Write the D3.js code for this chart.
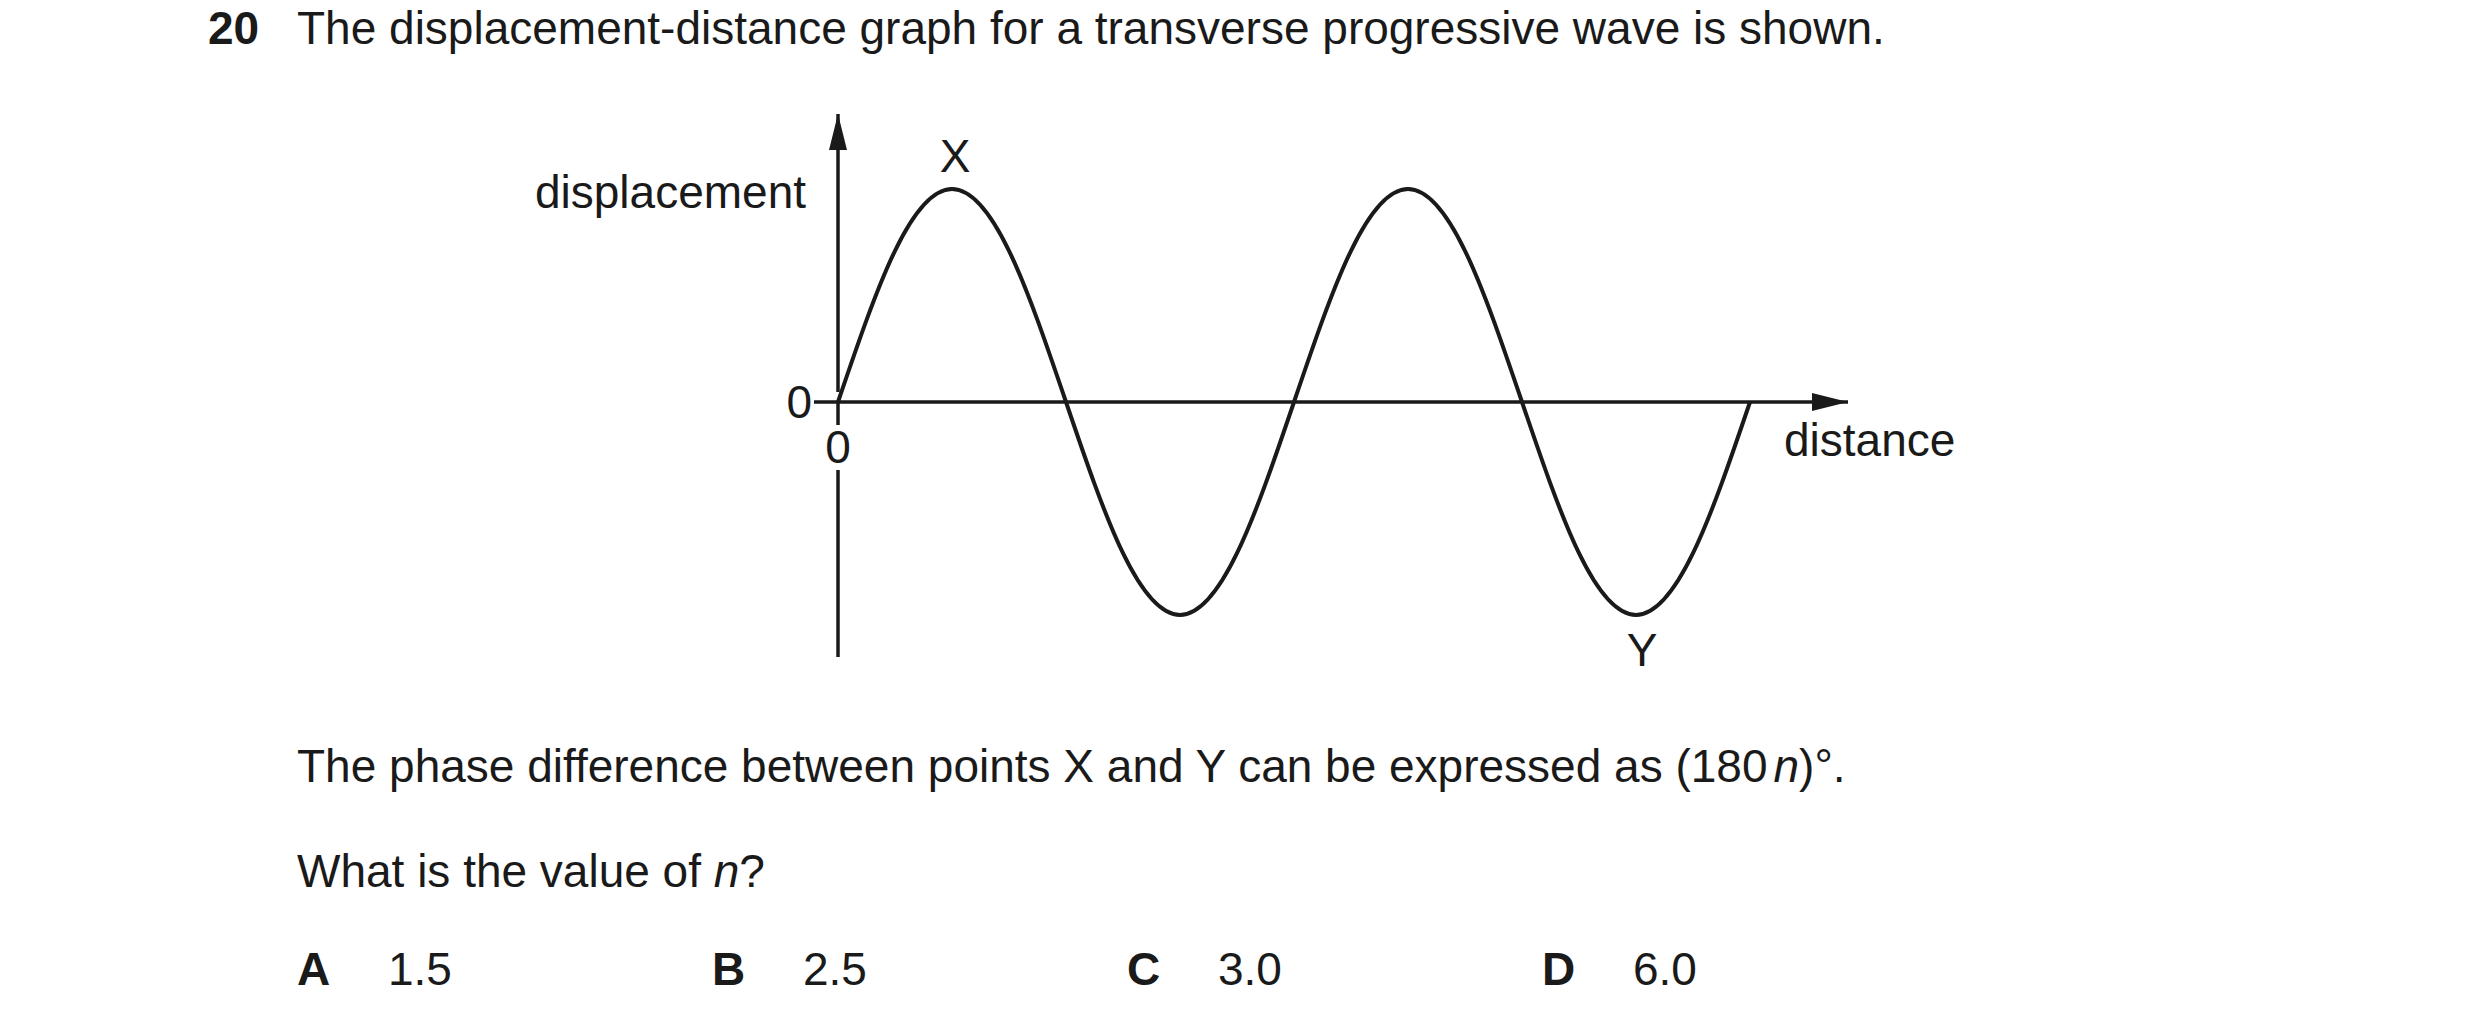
<!DOCTYPE html>
<html><head><meta charset="utf-8">
<script src="https://cdn.jsdelivr.net/npm/d3@7"></script>
<style>body{margin:0;background:#fff}text{font-family:"Liberation Sans",Arial,sans-serif;fill:#1a1a1a}</style>
</head><body><svg id="c" width="2480" height="1022"></svg>
<script>
const distance = [0,1,2,3,4,5,6,7,8,9,10,11,12,13,14,15,16];
const displacement = [0,0.71,1,0.71,0,-0.71,-1,-0.71,0,0.71,1,0.71,0,-0.71,-1,-0.71,0];
const options = [["A","1.5"],["B","2.5"],["C","3.0"],["D","6.0"]];

const svg = d3.select('#c');
const ink = '#1a1a1a';
const x = d3.scaleLinear().domain([0,16]).range([838,1750]);
const y = d3.scaleLinear().domain([-1,1]).range([615,189]);

svg.append('defs').append('marker').attr('id','arr')
  .attr('viewBox','0 0 10 10').attr('refX',10).attr('refY',5)
  .attr('markerWidth',36).attr('markerHeight',18).attr('markerUnits','userSpaceOnUse')
  .attr('preserveAspectRatio','none').attr('orient','auto')
  .append('path').attr('d','M0,0L10,5L0,10z').attr('fill',ink);

// axes
svg.append('line').attr('x1',x(0)).attr('x2',x(0)).attr('y1',y(0)-10).attr('y2',114)
  .attr('stroke',ink).attr('stroke-width',3.5).attr('marker-end','url(#arr)');
svg.append('line').attr('x1',x(0)).attr('x2',x(0)).attr('y1',y(0)).attr('y2',425)
  .attr('stroke',ink).attr('stroke-width',3.5);
svg.append('line').attr('x1',x(0)).attr('x2',x(0)).attr('y1',470).attr('y2',657)
  .attr('stroke',ink).attr('stroke-width',3.5);
svg.append('line').attr('x1',814).attr('x2',1848).attr('y1',y(0)).attr('y2',y(0))
  .attr('stroke',ink).attr('stroke-width',3.5).attr('marker-end','url(#arr)');

svg.append('path')
  .attr('d', d3.line().x((d,i)=>x(distance[i])).y(d=>y(d)).curve(d3.curveNatural)(displacement))
  .attr('fill','none').attr('stroke',ink).attr('stroke-width',4);

const t = (s,xx,yy,opt={}) => svg.append('text').attr('x',xx).attr('y',yy)
  .attr('font-size',opt.size||46).attr('text-anchor',opt.anchor||'start')
  .attr('font-weight',opt.bold?'bold':null).text(s);

t('20',208,44,{bold:true});
t('The displacement-distance graph for a transverse progressive wave is shown.',297,44);
t('displacement',806,208,{anchor:'end'});
t('X',955,172,{anchor:'middle'});
t('Y',1642,666,{anchor:'middle'});
t('0',812,418,{anchor:'end'});
t('0',838,463,{anchor:'middle'});
t('distance',1784,456);

const p = t('The phase difference between points X and Y can be expressed as (180',297,782);
p.append('tspan').attr('dx',6).attr('font-style','italic').text('n');
p.append('tspan').text(')°.');
const q = t('What is the value of ',297,887);
q.append('tspan').attr('font-style','italic').text('n');
q.append('tspan').text('?');

options.forEach((o,i)=>{
  t(o[0],297+i*415,985,{bold:true});
  t(o[1],388+i*415,985);
});
</script></body></html>
